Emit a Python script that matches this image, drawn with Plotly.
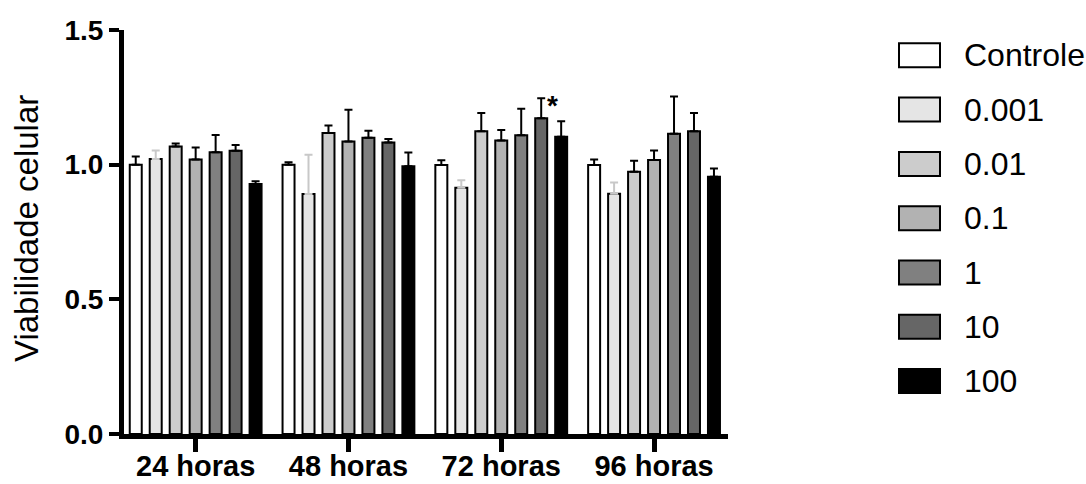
import plotly.graph_objects as go

# Time points (x categories)
tempos = ["24 horas", "48 horas", "72 horas", "96 horas"]

# Concentration groups (legend order)
grupos = ["Controle", "0.001", "0.01", "0.1", "1", "10", "100"]

# Mean cell viability per group, one value per time point
media_controle = [1.000, 1.000, 0.999, 0.999]
media_0001 = [1.021, 0.891, 0.914, 0.892]
media_001 = [1.067, 1.118, 1.124, 0.974]
media_01 = [1.019, 1.086, 1.090, 1.017]
media_1 = [1.046, 1.100, 1.109, 1.115]
media_10 = [1.052, 1.082, 1.172, 1.124]
media_100 = [0.928, 0.994, 1.104, 0.955]

# Upper error (SEM) per group
erro_controle = [0.030, 0.009, 0.017, 0.020]
erro_0001 = [0.032, 0.146, 0.028, 0.042]
erro_001 = [0.012, 0.027, 0.068, 0.041]
erro_01 = [0.045, 0.118, 0.039, 0.036]
erro_1 = [0.064, 0.026, 0.099, 0.138]
erro_10 = [0.021, 0.013, 0.075, 0.068]
erro_100 = [0.010, 0.051, 0.057, 0.031]

# Significance marker: (time point, group)
signif = [("72 horas", "10")]

medias = [media_controle, media_0001, media_001, media_01, media_1, media_10, media_100]
erros = [erro_controle, erro_0001, erro_001, erro_01, erro_1, erro_10, erro_100]

cores = ["#ffffff", "#e5e5e5", "#cccccc", "#b2b2b2", "#808080", "#666666", "#000000"]
cores_erro = ["#000000", "#c8c8c8", "#000000", "#000000", "#000000", "#000000", "#000000"]

FONTE = "Liberation Sans, Arial, sans-serif"
BARGAP = 0.085

fig = go.Figure()
for nome, m, e, c, ce in zip(grupos, medias, erros, cores, cores_erro):
    fig.add_trace(go.Bar(
        name=nome,
        x=tempos,
        y=m,
        marker=dict(color=c, line=dict(color="#000000", width=2)),
        error_y=dict(type="data", array=e, arrayminus=[0] * len(e), symmetric=False,
                     color=ce, thickness=2, width=4),
        showlegend=False,
    ))

# Asterisk above the flagged bar
slot = (1 - BARGAP) / len(grupos)
for tempo, grupo in signif:
    ti = tempos.index(tempo)
    gi = grupos.index(grupo)
    topo = medias[gi][ti] + erros[gi][ti]
    fig.add_annotation(
        x=ti + (gi - (len(grupos) - 1) / 2) * slot, y=topo, xref="x", yref="y",
        text="<b>*</b>", showarrow=False, xanchor="center", yanchor="middle",
        xshift=11, yshift=-7, font=dict(family=FONTE, size=28, color="#000000"),
    )

# Plot-area geometry in pixels (used for the hand-built legend)
L, R, T, B, W, H = 124, 358, 30, 50, 1086, 484
pw = W - L - R
ph = H - T - B


def px_x(px):
    return (px - L) / pw


def px_y(py):
    return (H - B - py) / ph


# Legend: boxes and labels on the right
for i, (nome, c) in enumerate(zip(grupos, cores)):
    cy = 55.3 + 54.3 * i
    fig.add_shape(type="rect", xref="paper", yref="paper",
                  x0=px_x(899), x1=px_x(940), y0=px_y(cy + 12), y1=px_y(cy - 12),
                  fillcolor=c, line=dict(color="#000000", width=2))
    fig.add_annotation(x=px_x(962), y=px_y(cy), xref="paper", yref="paper",
                       text=nome, showarrow=False, xanchor="left", yanchor="middle",
                       font=dict(family=FONTE, size=32, color="#000000"))

# Y-axis title
fig.add_annotation(x=px_x(26), y=px_y(229), xref="paper", yref="paper",
                   text="Viabilidade celular", textangle=-90, showarrow=False,
                   xanchor="center", yanchor="middle",
                   font=dict(family=FONTE, size=33, color="#000000"))

fig.update_layout(
    width=W, height=H,
    margin=dict(l=L, r=R, t=T, b=B, pad=0, autoexpand=False),
    paper_bgcolor="#ffffff", plot_bgcolor="#ffffff",
    barmode="group", bargap=BARGAP, bargroupgap=0.4,
    font=dict(family=FONTE, color="#000000"),
    showlegend=False,
)
fig.update_xaxes(
    type="category", range=[-0.469, 3.484], automargin=False,
    showline=True, linecolor="#000000", linewidth=5,
    ticks="outside", ticklen=13, tickwidth=5, tickcolor="#000000",
    ticklabelstandoff=-11,
    tickfont=dict(family=FONTE, size=29, color="#000000", weight="bold"),
    showgrid=False, zeroline=False,
)
fig.update_yaxes(
    range=[0, 1.5], tickvals=[0, 0.5, 1.0, 1.5], ticktext=["0.0", "0.5", "1.0", "1.5"],
    automargin=False,
    showline=True, linecolor="#000000", linewidth=5,
    ticks="outside", ticklen=10, tickwidth=4, tickcolor="#000000",
    tickfont=dict(family=FONTE, size=28, color="#000000", weight="bold"),
    showgrid=False, zeroline=False,
)

fig.write_html("out.html")
